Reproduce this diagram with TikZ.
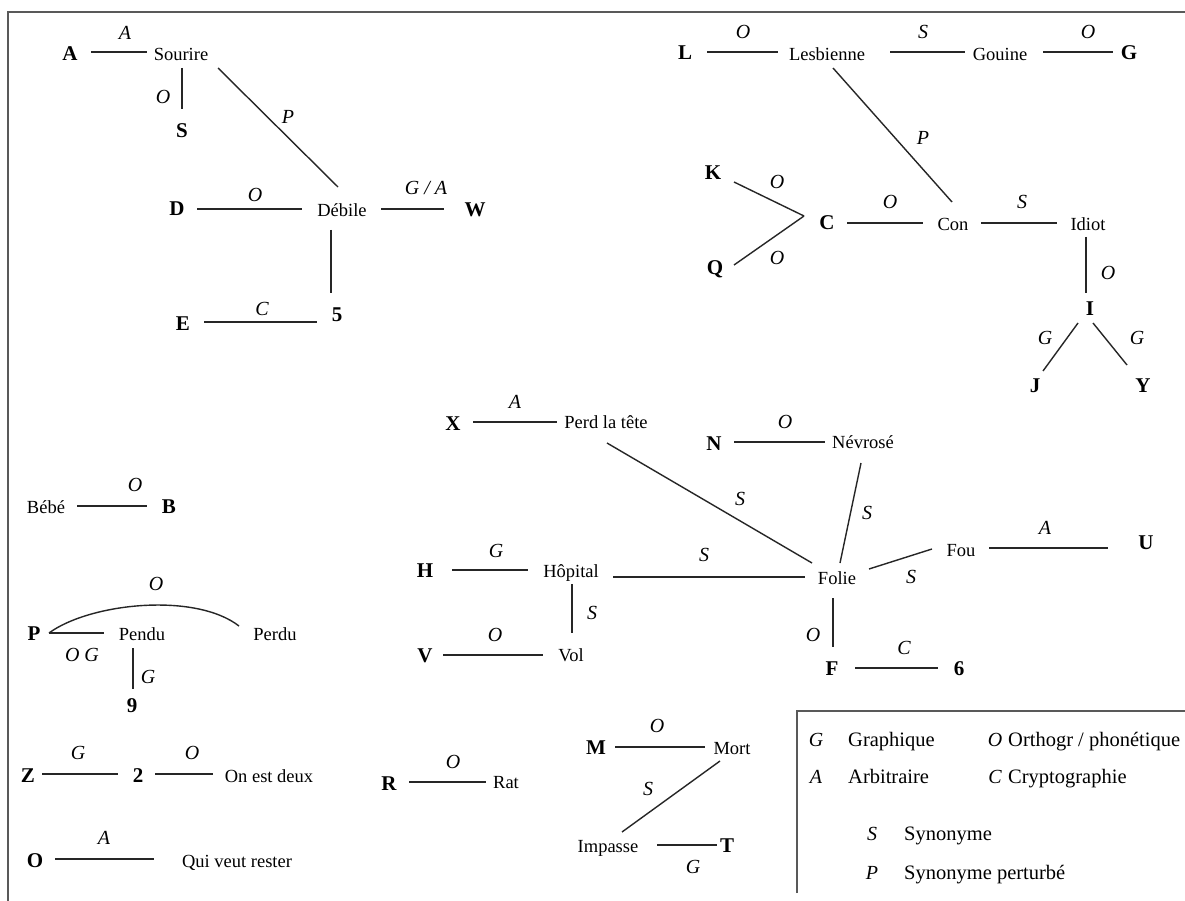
\documentclass[tikz,border=0pt]{standalone}
\usepackage{fontspec}
\setmainfont{Liberation Serif}
\usetikzlibrary{calc}
\tikzset{
  w/.style={font=\fontsize{18.5}{20}\selectfont, inner sep=0pt, text height=11pt, text depth=0pt},
  b/.style={font=\fontsize{21}{23}\selectfont\bfseries, inner sep=0pt, text height=14pt, text depth=0pt},
  lab/.style={font=\fontsize{20}{22}\selectfont\itshape, inner sep=0pt, text height=13pt, text depth=0pt},
  edge/.style={line width=1.4pt, draw=black!85},
  frame/.style={line width=1.6pt, draw=black!65},
  kl/.style={font=\fontsize{20}{22}\selectfont\itshape, inner sep=0pt, text height=13pt, text depth=0pt},
  kt/.style={font=\fontsize{20.5}{22}\selectfont, inner sep=0pt, text height=12.5pt, text depth=0pt, anchor=west},
}
\begin{document}
\begin{tikzpicture}[x=1pt,y=-1pt]
\fill[white] (0,0) rectangle (1185,901);
\useasboundingbox (0,0) rectangle (1185,901);
% frame
\coordinate (fTL) at (8,12);
\coordinate (fTR) at (1185,12);
\coordinate (fBL) at (8,901);
\draw[frame] (fBL) -- (fTL) -- (fTR);
% legend box
\coordinate (kTL) at (797,711);
\coordinate (kTR) at (1185,711);
\coordinate (kBL) at (797,893);
\draw[frame] (kBL) -- (kTL) -- (kTR);

% ---------- nodes: top-left cluster
\node[b] (A) at (70,54) {A};
\node[w] (Sourire) at (181,55) {Sourire};
\node[b] (S) at (182,131) {S};
\node[b] (D) at (177,209) {D};
\node[w] (Debile) at (342,211) {Débile};
\node[b] (W) at (475,210) {W};
\node[b] (E) at (183,323) {E};
\node[b] (n5) at (337,314) {5};
% top-right cluster
\node[b] (L) at (685,53) {L};
\node[w] (Lesbienne) at (827,55) {Lesbienne};
\node[w] (Gouine) at (1000,55) {Gouine};
\node[b] (G) at (1129,53) {G};
\node[b] (K) at (713,173) {K};
\node[b] (Q) at (715,267) {Q};
\node[b] (C) at (827,223) {C};
\node[w] (Con) at (953,225) {Con};
\node[w] (Idiot) at (1088,225) {Idiot};
\node[b] (I) at (1090,308) {I};
\node[b] (J) at (1035,385) {J};
\node[b] (Y) at (1143,385) {Y};
% middle cluster
\node[b] (X) at (453,423) {X};
\node[w] (PerdTete) at (606,423) {Perd la tête};
\node[b] (N) at (714,443) {N};
\node[w] (Nevrose) at (863,443) {Névrosé};
\node[b] (H) at (425,570) {H};
\node[w] (Hopital) at (571,572) {Hôpital};
\node[w] (Folie) at (837,579) {Folie};
\node[w] (Fou) at (961,551) {Fou};
\node[b] (U) at (1146,542) {U};
\node[b] (V) at (425,655) {V};
\node[w] (Vol) at (571,656) {Vol};
\node[b] (F) at (832,668) {F};
\node[b] (n6) at (959,668) {6};
% left column
\node[w] (Bebe) at (46,508) {Bébé};
\node[b] (B) at (169,506) {B};
\node[b] (P) at (34,633) {P};
\node[w] (Pendu) at (142,635) {Pendu};
\node[w] (Perdu) at (275,635) {Perdu};
\node[b] (n9) at (132,705) {9};
\node[b] (Z) at (28,775) {Z};
\node[b] (n2) at (138,775) {2};
\node[w] (OnEstDeux) at (269,777) {On est deux};
\node[b] (O) at (35,860) {O};
\node[w] (QuiVeut) at (237,862) {Qui veut rester};
% bottom middle
\node[b] (R) at (389,783) {R};
\node[w] (Rat) at (506,783) {Rat};
\node[b] (M) at (596,747) {M};
\node[w] (Mort) at (732,749) {Mort};
\node[w] (Impasse) at (608,847) {Impasse};
\node[b] (T) at (727,845) {T};

% ---------- connectors
\draw[edge] ($(A)+(21,-2)$) -- ($(Sourire)+(-34,-3)$);
\draw[edge] ($(Sourire)+(1,13)$) -- ($(S)+(0,-22)$);
\draw[edge] ($(Sourire)+(37,13)$) -- ($(Debile)+(-4,-24)$);
\draw[edge] ($(D)+(20,0)$) -- ($(Debile)+(-40,-2)$);
\draw[edge] ($(Debile)+(39,-2)$) -- ($(W)+(-31,-1)$);
\draw[edge] ($(Debile)+(-11,19)$) -- ($(n5)+(-6,-21)$);
\draw[edge] ($(E)+(21,-1)$) -- ($(n5)+(-20,8)$);

\draw[edge] ($(L)+(22,-1)$) -- ($(Lesbienne)+(-49,-3)$);
\draw[edge] ($(Lesbienne)+(63,-3)$) -- ($(Gouine)+(-35,-3)$);
\draw[edge] ($(Gouine)+(43,-3)$) -- ($(G)+(-16,-1)$);
\draw[edge] ($(Lesbienne)+(6,13)$) -- ($(Con)+(-1,-23)$);
\draw[edge] ($(K)+(21,9)$) -- ($(C)+(-23,-7)$);
\draw[edge] ($(Q)+(19,-2)$) -- ($(C)+(-23,-7)$);
\draw[edge] ($(C)+(20,0)$) -- ($(Con)+(-30,-2)$);
\draw[edge] ($(Con)+(28,-2)$) -- ($(Idiot)+(-31,-2)$);
\draw[edge] ($(Idiot)+(-2,12)$) -- ($(I)+(-4,-15)$);
\draw[edge] ($(I)+(-12,15)$) -- ($(J)+(8,-14)$);
\draw[edge] ($(I)+(3,15)$) -- ($(Y)+(-16,-20)$);

\draw[edge] ($(X)+(20,-1)$) -- ($(PerdTete)+(-49,-1)$);
\draw[edge] ($(PerdTete)+(1,20)$) -- ($(Folie)+(-25,-16)$);
\draw[edge] ($(N)+(20,-1)$) -- ($(Nevrose)+(-38,-1)$);
\draw[edge] ($(Nevrose)+(-2,20)$) -- ($(Folie)+(3,-16)$);
\draw[edge] ($(H)+(27,0)$) -- ($(Hopital)+(-43,-2)$);
\draw[edge] ($(Hopital)+(42,5)$) -- ($(Folie)+(-32,-2)$);
\draw[edge] ($(Hopital)+(1,12)$) -- ($(Vol)+(1,-23)$);
\draw[edge] ($(V)+(18,0)$) -- ($(Vol)+(-28,-1)$);
\draw[edge] ($(Folie)+(32,-10)$) -- ($(Fou)+(-29,-2)$);
\draw[edge] ($(Fou)+(28,-3)$) -- ($(U)+(-38,6)$);
\draw[edge] ($(Folie)+(-4,19)$) -- ($(F)+(1,-21)$);
\draw[edge] ($(F)+(23,0)$) -- ($(n6)+(-21,0)$);

\draw[edge] ($(Bebe)+(31,-2)$) -- ($(B)+(-22,0)$);
\draw[edge] ($(P)+(15,0)$) -- ($(Pendu)+(-38,-2)$);
\draw[edge] ($(P)+(15,0)$) .. controls ($(P)+(56,-30)$) and ($(Perdu)+(-80,-43)$) .. ($(Perdu)+(-36,-9)$);
\draw[edge] ($(Pendu)+(-9,13)$) -- ($(n9)+(1,-16)$);
\draw[edge] ($(Z)+(14,-1)$) -- ($(n2)+(-20,-1)$);
\draw[edge] ($(n2)+(17,-1)$) -- ($(OnEstDeux)+(-56,-3)$);
\draw[edge] ($(O)+(20,-1)$) -- ($(QuiVeut)+(-83,-3)$);
\draw[edge] ($(R)+(20,-1)$) -- ($(Rat)+(-20,-1)$);
\draw[edge] ($(M)+(19,0)$) -- ($(Mort)+(-27,-2)$);
\draw[edge] ($(Mort)+(-12,12)$) -- ($(Impasse)+(14,-15)$);
\draw[edge] ($(Impasse)+(49,-2)$) -- ($(T)+(-10,0)$);

% ---------- connector labels
\node[lab] (l1) at (125,33) {A};
\node[lab] (l2) at (163,97) {O};
\node[lab] (l3) at (288,117) {P};
\node[lab] (l4) at (255,195) {O};
\node[lab] (l5) at (426,188) {G / A};
\node[lab] (l6) at (262,309) {C};
\node[lab] (l7) at (743,32) {O};
\node[lab] (l8) at (923,32) {S};
\node[lab] (l9) at (1088,32) {O};
\node[lab] (l10) at (923,138) {P};
\node[lab] (l11) at (777,182) {O};
\node[lab] (l12) at (777,258) {O};
\node[lab] (l13) at (890,202) {O};
\node[lab] (l14) at (1022,202) {S};
\node[lab] (l15) at (1108,273) {O};
\node[lab] (l16) at (1045,338) {G};
\node[lab] (l17) at (1137,338) {G};
\node[lab] (l18) at (515,402) {A};
\node[lab] (l19) at (740,499) {S};
\node[lab] (l20) at (785,422) {O};
\node[lab] (l21) at (867,513) {S};
\node[lab] (l22) at (496,551) {G};
\node[lab] (l23) at (704,555) {S};
\node[lab] (l24) at (592,613) {S};
\node[lab] (l25) at (495,635) {O};
\node[lab] (l26) at (911,577) {S};
\node[lab] (l27) at (1045,528) {A};
\node[lab] (l28) at (813,635) {O};
\node[lab] (l29) at (904,648) {C};
\node[lab] (l30) at (135,485) {O};
\node[lab] (l31) at (156,584) {O};
\node[lab] (l32) at (82,655) {O G};
\node[lab] (l33) at (148,677) {G};
\node[lab] (l34) at (78,753) {G};
\node[lab] (l35) at (192,753) {O};
\node[lab] (l36) at (104,838) {A};
\node[lab] (l37) at (453,762) {O};
\node[lab] (l38) at (657,726) {O};
\node[lab] (l39) at (648,789) {S};
\node[lab] (l40) at (693,867) {G};

% ---------- legend
\node[kl] (kG) at (816,740) {G};
\node[kt] (kGt) at (848,740) {Graphique};
\node[kl] (kO) at (995,740) {O};
\node[kt] (kOt) at (1008,740) {Orthogr / phonétique};
\node[kl] (kA) at (816,777) {A};
\node[kt] (kAt) at (848,777) {Arbitraire};
\node[kl] (kC) at (995,777) {C};
\node[kt] (kCt) at (1008,777) {Cryptographie};
\node[kl] (kS) at (872,834) {S};
\node[kt] (kSt) at (904,834) {Synonyme};
\node[kl] (kP) at (872,873) {P};
\node[kt] (kPt) at (904,873) {Synonyme perturbé};
\end{tikzpicture}
\end{document}
